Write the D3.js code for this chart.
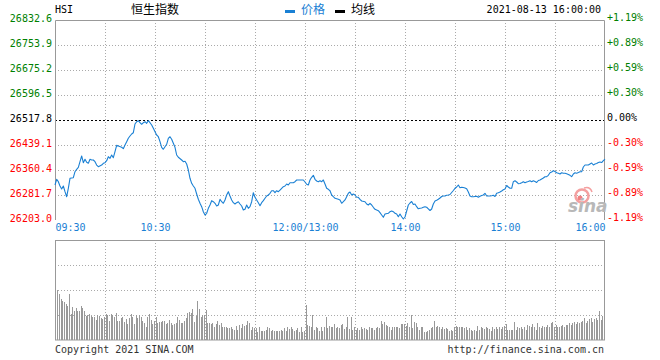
<!DOCTYPE html>
<html><head><meta charset="utf-8">
<script src="https://cdn.jsdelivr.net/npm/d3@7"></script>
<style>
body{margin:0;background:#fff;}
svg{display:block;}
.mono{font-family:"DejaVu Sans Mono",monospace;font-size:10px;}
.cjk{font-family:"Noto Sans CJK SC",sans-serif;font-size:12px;}
</style></head>
<body>
<svg id="c" width="660" height="360"></svg>
<script>
const prevClose = 26517.8;
const priceTicks = [26832.6, 26753.9, 26675.2, 26596.5, 26517.8, 26439.1, 26360.4, 26281.7, 26203.0];
const pctTicks = ["+1.19%", "+0.89%", "+0.59%", "+0.30%", "0.00%", "-0.30%", "-0.59%", "-0.89%", "-1.19%"];
const timeTicks = [0, 60, 150, 210, 270, 330];
const timeLabels = ["09:30", "10:30", "12:00/13:00", "14:00", "15:00", "16:00"];
const gridTimes = [30, 60, 90, 120, 150, 180, 210, 240, 270, 300];

// minute offsets from 09:30 (trading minutes) and index prices
const minutes = [0,1,2,3,4,5,6,7,8,9,11,12,13,14,15,16,17,18,19,20,21,22,23,24,25,26,28,29,30,31,32,33,34,35,36,37,38,40,41,42,43,44,45,46,47,48,49,50,51,52,53,54,55,56,57,58,59,60,61,62,63,64,65,66,67,68,69,70,71,72,73,74,76,77,78,79,80,81,82,83,84,85,86,87,88,89,90,91,92,93,94,95,96,97,98,99,100,101,102,103,104,105,106,107,108,109,110,111,112,113,114,115,116,117,118,119,120,121,122,123,124,125,126,127,128,129,130,131,132,133,134,135,136,137,138,139,140,141,142,143,144,145,147,148,149,150,151,152,153,154,155,156,157,158,159,160,161,162,163,164,165,166,167,168,170,171,172,173,174,175,176,177,178,179,180,181,182,183,184,186,187,188,189,190,191,192,194,195,196,197,198,200,201,202,203,204,205,206,207,208,209,210,211,212,213,214,215,216,217,218,219,220,221,222,223,224,225,226,227,228,229,230,231,232,233,234,235,236,237,238,239,240,241,242,243,244,245,246,247,248,249,250,251,252,253,254,255,256,257,258,259,260,261,262,263,264,265,266,267,268,269,270,271,272,273,274,275,276,277,278,279,280,281,282,283,284,285,286,287,288,289,290,291,292,293,294,295,296,297,298,299,300,301,302,303,304,305,306,307,308,309,310,311,312,313,314,315,316,317,318,319,320,321,322,323,324,325,326,327,328,329,330];
const prices = [26313.2,26331.1,26323.6,26310.0,26300.6,26310.0,26292.1,26276.3,26302.8,26334.3,26336.2,26355.0,26362.6,26368.9,26386.5,26404.5,26383.4,26394.1,26384.6,26381.5,26394.1,26391.9,26391.9,26386.5,26376.1,26370.8,26376.1,26381.5,26383.4,26389.7,26402.3,26397.2,26407.6,26399.1,26418.0,26438.2,26436.0,26431.9,26427.5,26439.1,26449.5,26460.2,26467.4,26473.7,26477.8,26505.2,26512.4,26515.6,26509.3,26504.3,26509.3,26512.4,26507.4,26515.6,26509.3,26502.1,26491.7,26481.0,26470.6,26465.2,26449.5,26431.9,26425.6,26433.7,26441.3,26460.2,26465.2,26457.0,26444.5,26431.9,26407.6,26400.4,26391.9,26386.5,26387.8,26379.3,26360.4,26334.3,26318.5,26310.0,26302.8,26284.8,26268.2,26255.6,26244.9,26229.1,26218.7,26224.1,26239.8,26250.2,26263.8,26260.6,26255.6,26247.1,26250.2,26268.2,26260.6,26255.6,26266.0,26281.7,26292.1,26278.6,26266.0,26257.5,26253.4,26257.5,26260.6,26253.4,26247.1,26234.5,26236.7,26250.2,26239.8,26244.9,26260.6,26288.9,26274.5,26266.0,26257.5,26248.0,26257.5,26263.8,26271.3,26278.6,26281.7,26287.1,26295.2,26295.2,26288.9,26295.2,26292.1,26297.4,26302.8,26307.8,26310.0,26316.3,26313.2,26320.4,26320.4,26320.4,26323.6,26328.9,26328.9,26328.9,26328.9,26322.6,26315.4,26313.2,26328.9,26337.4,26343.7,26331.1,26325.8,26323.6,26326.7,26323.6,26328.9,26316.3,26302.8,26299.6,26295.2,26281.7,26276.3,26271.3,26268.2,26266.0,26255.6,26260.6,26266.0,26276.3,26287.1,26291.1,26281.7,26284.8,26281.7,26274.5,26274.5,26268.2,26262.8,26260.6,26253.4,26250.2,26255.6,26250.2,26243.0,26236.7,26232.3,26226.0,26218.7,26211.5,26221.9,26224.1,26229.1,26231.3,26229.1,26224.1,26221.9,26213.4,26221.9,26213.4,26206.1,26212.4,26231.3,26250.2,26256.5,26261.2,26251.8,26253.4,26244.9,26238.3,26239.8,26240.8,26243.0,26244.9,26243.2,26238.3,26232.9,26237.6,26253.4,26262.8,26265.0,26268.2,26272.3,26277.0,26278.6,26278.6,26280.8,26281.7,26283.3,26289.6,26295.9,26302.8,26306.9,26313.2,26304.7,26305.9,26305.3,26303.7,26301.2,26291.1,26278.6,26276.3,26276.3,26277.0,26277.6,26274.5,26277.6,26280.1,26281.7,26287.1,26278.6,26278.6,26278.6,26279.2,26280.8,26277.0,26287.1,26288.6,26291.1,26294.3,26298.1,26300.6,26311.6,26306.9,26302.8,26302.8,26323.6,26326.4,26322.6,26317.3,26317.9,26320.4,26323.6,26320.4,26322.6,26324.2,26326.7,26323.6,26326.7,26324.2,26321.0,26327.3,26328.9,26332.1,26335.2,26339.3,26339.3,26343.7,26351.9,26354.1,26358.2,26355.7,26351.9,26350.0,26347.8,26351.9,26350.0,26350.0,26348.4,26346.2,26343.7,26339.3,26347.8,26351.6,26350.3,26352.5,26355.0,26355.0,26369.8,26376.1,26376.1,26376.1,26379.3,26382.4,26376.1,26379.3,26380.9,26384.0,26385.6,26384.0,26389.7,26394.1];

// per-minute volume (relative units), minutes 1..329
const volumes = [50,46,41,39,38,36,34,46,26,33,29,32,29,29,34,32,29,24,25,26,24,23,23,20,25,24,22,21,23,26,25,19,26,25,23,27,19,19,22,23,18,21,16,22,26,23,16,25,22,25,23,19,17,13,23,26,20,16,19,23,17,18,18,19,19,16,17,20,17,15,16,17,23,20,17,17,19,22,27,28,27,31,18,24,39,31,23,25,25,30,17,17,16,17,13,16,19,15,17,13,13,13,12,12,13,11,10,14,10,15,12,16,14,15,19,17,10,13,12,12,8,13,9,9,9,10,13,12,9,10,9,9,9,9,10,9,12,9,13,11,13,11,9,10,12,8,13,8,9,35,15,14,13,25,10,13,12,9,13,9,13,23,12,14,13,13,16,12,13,12,15,16,11,13,23,11,23,10,13,10,12,
10,13,11,12,11,10,13,12,12,10,12,13,12,19,16,18,15,14,13,10,13,13,13,13,12,16,16,16,14,17,13,25,12,18,17,13,10,13,13,8,8,9,10,12,13,19,13,14,13,11,13,11,12,11,9,10,9,13,14,13,13,13,13,12,13,10,12,10,9,10,9,14,10,13,12,11,13,12,11,9,13,11,13,11,13,11,13,14,16,10,10,10,10,18,10,13,12,13,11,13,10,15,14,13,16,13,10,17,13,12,14,13,13,15,13,17,18,13,15,13,13,14,15,13,15,15,17,15,17,18,16,18,17,18,19,22,17,19,21,22,18,21,22,20,29,20,24,27];

const BLUE = "#1a80d4", GREEN = "#008000", RED = "#ff0000", GRID = "#aaaaaa", FRAME = "#999999";

const svg = d3.select("#c");
const x = d3.scaleLinear().domain([0, 330]).range([55, 605]);
const y = d3.scaleLinear().domain([26203.0, 26832.6]).range([220, 20]);
const yv = d3.scaleLinear().domain([0, 100]).range([340, 240]);

function tickColor(v) { return v > prevClose + 0.01 ? GREEN : (v < prevClose - 0.01 ? RED : "#000"); }

// ---------- main panel grid ----------
const g = svg.append("g");
g.selectAll("line.hg").data(priceTicks.filter(v => v !== prevClose && v > 26203.0 && v < 26832.6))
  .join("line").attr("x1", 55).attr("x2", 605)
  .attr("y1", d => Math.round(y(d)) + 0.5).attr("y2", d => Math.round(y(d)) + 0.5)
  .attr("stroke", GRID).attr("stroke-dasharray", "1,2");
g.selectAll("line.vg").data(gridTimes).join("line")
  .attr("x1", d => Math.round(x(d)) + 0.5).attr("x2", d => Math.round(x(d)) + 0.5)
  .attr("y1", 20).attr("y2", 220)
  .attr("stroke", GRID).attr("stroke-dasharray", "1,2");
// previous close
g.append("line").attr("x1", 55).attr("x2", 605)
  .attr("y1", Math.round(y(prevClose)) + 0.5).attr("y2", Math.round(y(prevClose)) + 0.5)
  .attr("stroke", "#000").attr("stroke-dasharray", "2,2");
// frame (top, left, right)
g.append("path").attr("d", `M55.5,220V20.5H604.5V220`).attr("fill", "none").attr("stroke", FRAME);

// ---------- sina watermark ----------
const wm = svg.append("g");
wm.append("circle").attr("cx", 582).attr("cy", 196).attr("r", 6.5).attr("fill", "none").attr("stroke", "#f4a0a0").attr("stroke-width", 2.5);
wm.append("circle").attr("cx", 580).attr("cy", 198).attr("r", 2.5).attr("fill", "#f08080");
wm.append("path").attr("d", "M584,188 q6,-2 8,4").attr("fill", "none").attr("stroke", "#f4a0a0").attr("stroke-width", 1.5);
wm.append("text").attr("x", 568).attr("y", 212).attr("font-family", "DejaVu Sans").attr("font-weight", "bold")
  .attr("font-style", "italic").attr("font-size", 17).attr("fill", "#b8b8b8").text("sina");

// ---------- price line ----------
const pts = minutes.map((m, i) => [m, prices[i]]);
svg.append("path").datum(pts)
  .attr("d", d3.line().x(d => x(d[0])).y(d => y(d[1])))
  .attr("fill", "none").attr("stroke", BLUE).attr("stroke-width", 1.1).attr("stroke-linejoin", "round");

// ---------- axes ----------
const ax = svg.append("g").attr("class", "mono").attr("transform", "translate(55,0)")
  .call(d3.axisLeft(y).tickValues(priceTicks).tickSize(0).tickPadding(3).tickFormat(d3.format(".1f")));
ax.select(".domain").remove();
ax.selectAll("text").attr("dy", "0.1em").attr("fill", d => tickColor(d))
  .style("font-family", "DejaVu Sans Mono").style("font-size", "10px");

const ar = svg.append("g").attr("transform", "translate(605,0)")
  .call(d3.axisRight(y).tickValues(priceTicks).tickSize(0).tickPadding(2).tickFormat((d, i) => pctTicks[i]));
ar.select(".domain").remove();
ar.selectAll("text").attr("dy", "0.06em").attr("fill", d => tickColor(d))
  .style("font-family", "DejaVu Sans Mono").style("font-size", "10px");

const ab = svg.append("g").attr("transform", "translate(0,220)")
  .call(d3.axisBottom(x).tickValues(timeTicks).tickSize(0).tickPadding(4).tickFormat((d, i) => timeLabels[i]));
ab.select(".domain").remove();
ab.selectAll("text").attr("fill", BLUE)
  .style("font-family", "DejaVu Sans Mono").style("font-size", "10px")
  .attr("text-anchor", (d, i) => i === 0 ? "start" : (i === timeTicks.length - 1 ? "end" : "middle"));

// ---------- volume panel ----------
const vg = svg.append("g");
vg.selectAll("line.vh").data([25, 50, 75]).join("line")
  .attr("x1", 55).attr("x2", 605).attr("y1", d => Math.round(yv(d)) + 0.5).attr("y2", d => Math.round(yv(d)) + 0.5)
  .attr("stroke", GRID).attr("stroke-dasharray", "1,2");
vg.selectAll("line.vv").data(gridTimes).join("line")
  .attr("x1", d => Math.round(x(d)) + 0.5).attr("x2", d => Math.round(x(d)) + 0.5)
  .attr("y1", 240).attr("y2", 340).attr("stroke", GRID).attr("stroke-dasharray", "1,2");
vg.selectAll("rect.bar").data(volumes).join("rect")
  .attr("x", (d, i) => Math.round(x(i + 1) + 0.6)).attr("width", 1)
  .attr("y", d => Math.round(yv(d))).attr("height", d => 340 - Math.round(yv(d)))
  .attr("fill", "#999").attr("shape-rendering", "crispEdges");
vg.append("rect").attr("x", 55.5).attr("y", 240.5).attr("width", 549).attr("height", 99.5)
  .attr("fill", "none").attr("stroke", FRAME);

// ---------- header ----------
svg.append("text").attr("class", "mono").attr("x", 55).attr("y", 13).attr("fill", "#000").text("HSI");
svg.append("text").attr("class", "cjk").attr("x", 131).attr("y", 14).attr("fill", "#000").text("恒生指数");
svg.append("rect").attr("x", 285).attr("y", 10).attr("width", 10).attr("height", 3).attr("fill", BLUE);
svg.append("text").attr("class", "cjk").attr("x", 301).attr("y", 14).attr("fill", BLUE).text("价格");
svg.append("rect").attr("x", 335).attr("y", 10).attr("width", 10).attr("height", 3).attr("fill", "#000");
svg.append("text").attr("class", "cjk").attr("x", 351).attr("y", 14).attr("fill", "#000").text("均线");
svg.append("text").attr("class", "mono").attr("x", 601).attr("y", 13).attr("text-anchor", "end").attr("fill", "#000").text("2021-08-13 16:00:00");

// ---------- footer ----------
svg.append("text").attr("class", "mono").attr("x", 55).attr("y", 353).attr("fill", "#333").text("Copyright 2021 SINA.COM");
svg.append("text").attr("class", "mono").attr("x", 604).attr("y", 353).attr("text-anchor", "end").attr("fill", "#333").text("http://finance.sina.com.cn");
</script>
</body></html>
